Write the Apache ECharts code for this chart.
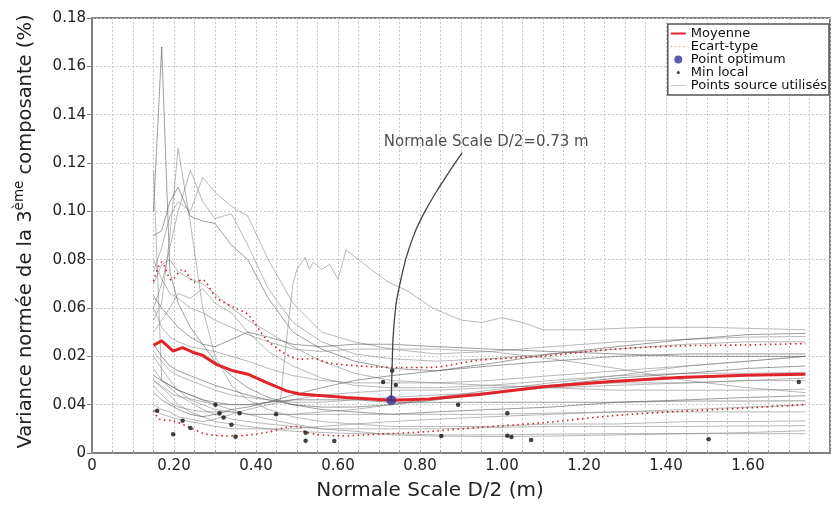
<!DOCTYPE html>
<html>
<head>
<meta charset="utf-8">
<script src="https://cdn.jsdelivr.net/npm/echarts@6/dist/echarts.min.js"></script>
<style>
  html, body { margin: 0; padding: 0; background: #fff; }
  #chart { width: 838px; height: 506px; }
</style>
</head>
<body>
<div id="chart"></div>
<script>
// Shared abscissae (Normale Scale D/2, m) for the source curves
const xGrid = [0.15,0.17,0.19,0.21,0.24,0.27,0.30,0.34,0.38,0.43,0.49,0.56,0.64,0.73,0.84,0.97,1.12,1.28,1.45,1.60,1.74];

// Source curves sampled on xGrid
const src01 = [0.100,0.168,0.075,0.062,0.052,0.045,0.038,0.032,0.027,0.023,0.020,0.018,0.017,0.016,0.017,0.018,0.019,0.021,0.022,0.023,0.0237];
const src02 = [0.055,0.062,0.090,0.126,0.095,0.060,0.040,0.028,0.022,0.018,0.015,0.013,0.012,0.011,0.011,0.011,0.012,0.012,0.013,0.013,0.0133];
const src03 = [0.075,0.085,0.098,0.104,0.100,0.114,0.108,0.102,0.098,0.080,0.062,0.050,0.046,0.043,0.041,0.042,0.044,0.046,0.047,0.048,0.0482];
const src04 = [0.060,0.070,0.085,0.100,0.117,0.104,0.097,0.099,0.086,0.068,0.054,0.046,0.041,0.039,0.038,0.039,0.041,0.043,0.045,0.046,0.046];
const src05 = [0.090,0.092,0.104,0.110,0.098,0.096,0.095,0.086,0.080,0.064,0.050,0.043,0.038,0.035,0.034,0.036,0.038,0.040,0.041,0.041,0.041];
const src06 = [0.117,0.030,0.028,0.026,0.024,0.022,0.020,0.018,0.016,0.014,0.012,0.010,0.009,0.0075,0.007,0.0068,0.007,0.0075,0.008,0.0085,0.0092];
const src07 = [0.070,0.078,0.080,0.075,0.072,0.070,0.066,0.060,0.055,0.050,0.044,0.038,0.033,0.030,0.029,0.030,0.032,0.034,0.036,0.038,0.040];
const src08 = [0.050,0.055,0.060,0.066,0.064,0.068,0.062,0.058,0.050,0.042,0.036,0.031,0.028,0.027,0.027,0.028,0.030,0.032,0.033,0.033,0.0333];
const src09 = [0.045,0.040,0.036,0.034,0.032,0.030,0.028,0.026,0.024,0.022,0.020,0.019,0.019,0.020,0.022,0.025,0.028,0.031,0.033,0.035,0.036];
const src10 = [0.040,0.035,0.030,0.026,0.022,0.020,0.018,0.017,0.016,0.016,0.016,0.017,0.018,0.020,0.023,0.026,0.029,0.032,0.036,0.038,0.040];
const src11 = [0.035,0.030,0.027,0.024,0.021,0.018,0.016,0.014,0.013,0.012,0.011,0.010,0.010,0.010,0.010,0.0105,0.011,0.011,0.011,0.0112,0.0113];
const src12 = [0.030,0.027,0.024,0.020,0.017,0.015,0.013,0.012,0.011,0.010,0.009,0.0085,0.008,0.008,0.0075,0.0075,0.0078,0.008,0.008,0.008,0.008];
const src13 = [0.025,0.022,0.020,0.018,0.016,0.015,0.016,0.018,0.019,0.021,0.024,0.027,0.030,0.032,0.034,0.037,0.041,0.044,0.047,0.049,0.0495];
const src14 = [0.020,0.018,0.017,0.015,0.014,0.013,0.014,0.016,0.018,0.020,0.022,0.024,0.025,0.026,0.026,0.027,0.028,0.029,0.029,0.030,0.0299];
const src15 = [0.060,0.052,0.048,0.046,0.044,0.043,0.042,0.040,0.038,0.035,0.032,0.030,0.029,0.029,0.029,0.028,0.027,0.026,0.026,0.026,0.0264];
const src16 = [0.080,0.072,0.066,0.064,0.060,0.058,0.055,0.052,0.049,0.046,0.043,0.042,0.043,0.043,0.043,0.042,0.039,0.035,0.030,0.027,0.025];
const src17 = [0.032,0.030,0.028,0.026,0.024,0.022,0.021,0.020,0.020,0.021,0.022,0.022,0.022,0.021,0.021,0.021,0.021,0.021,0.0215,0.0215,0.0216];
const src18 = [0.028,0.024,0.021,0.019,0.018,0.017,0.017,0.017,0.016,0.016,0.016,0.016,0.016,0.016,0.016,0.016,0.0165,0.017,0.017,0.017,0.017];
const src19 = [0.042,0.038,0.034,0.032,0.030,0.028,0.026,0.024,0.023,0.022,0.021,0.021,0.022,0.023,0.024,0.025,0.027,0.028,0.029,0.030,0.031];
const src20 = [0.018,0.016,0.015,0.014,0.013,0.012,0.011,0.010,0.010,0.010,0.010,0.011,0.012,0.013,0.014,0.015,0.016,0.017,0.018,0.019,0.020];
const src21 = [0.065,0.060,0.056,0.052,0.048,0.045,0.044,0.047,0.050,0.048,0.045,0.044,0.045,0.045,0.044,0.043,0.042,0.041,0.040,0.040,0.040];

// Source curve with the late bump, given as [x, y] pairs
const srcBump = [[0.15,0.030],[0.20,0.024],[0.30,0.020],[0.40,0.020],[0.46,0.022],[0.47,0.040],[0.49,0.070],[0.50,0.076],[0.52,0.081],[0.53,0.076],[0.54,0.079],[0.56,0.076],[0.58,0.078],[0.60,0.072],[0.62,0.084],[0.65,0.080],[0.68,0.076],[0.72,0.071],[0.77,0.067],[0.83,0.060],[0.90,0.055],[0.95,0.054],[1.00,0.056],[1.05,0.054],[1.10,0.051],[1.20,0.051],[1.35,0.052],[1.50,0.052],[1.74,0.051]];

// Mean ("Moyenne")
const meanCurve = [[0.15,0.0446],[0.17,0.0464],[0.198,0.0422],[0.221,0.0436],[0.247,0.0416],[0.269,0.0405],[0.303,0.0367],[0.344,0.034],[0.38,0.0326],[0.425,0.0292],[0.474,0.0257],[0.506,0.0244],[0.538,0.024],[0.62,0.023],[0.73,0.0218],[0.822,0.0223],[0.944,0.0242],[1.106,0.0275],[1.268,0.0296],[1.431,0.0312],[1.593,0.0322],[1.74,0.0326]];

// Mean + standard deviation
const stdUpper = [[0.15,0.0711],[0.17,0.079],[0.194,0.0716],[0.221,0.076],[0.25,0.0707],[0.269,0.0716],[0.303,0.0643],[0.348,0.0601],[0.38,0.0574],[0.425,0.0471],[0.466,0.0416],[0.506,0.0388],[0.538,0.0391],[0.579,0.0372],[0.652,0.036],[0.732,0.0354],[0.822,0.0354],[0.944,0.0384],[1.106,0.0402],[1.268,0.0429],[1.431,0.0443],[1.593,0.0447],[1.74,0.0453]];

// Mean - standard deviation
const stdLower = [[0.15,0.0175],[0.165,0.014],[0.198,0.0133],[0.238,0.0106],[0.279,0.0078],[0.348,0.0071],[0.425,0.0085],[0.474,0.0106],[0.506,0.011],[0.522,0.0085],[0.603,0.0071],[0.70,0.0078],[0.822,0.0089],[0.944,0.0106],[1.106,0.0126],[1.268,0.0154],[1.431,0.0172],[1.593,0.0186],[1.74,0.020]];

// Local minima of the source curves
const localMins = [[0.159,0.0175],[0.198,0.0078],[0.221,0.0133],[0.24,0.0103],[0.301,0.020],[0.311,0.0164],[0.321,0.0147],[0.36,0.0165],[0.34,0.0117],[0.35,0.0067],[0.449,0.016],[0.521,0.0084],[0.521,0.0051],[0.591,0.005],[0.71,0.0294],[0.732,0.034],[0.741,0.0281],[0.852,0.007],[0.893,0.020],[1.013,0.0165],[1.013,0.0071],[1.023,0.0066],[1.071,0.0054],[1.504,0.0057],[1.724,0.0294]];

// Optimum of the mean curve
const optimum = [[0.73, 0.0218]];
const optimumLabel = 'Normale Scale D/2=0.73 m';

// Leader from the optimum up to its caption
const leaderPath = [[0.73,0.0218],[0.7316,0.0333],[0.737,0.054],[0.757,0.0746],[0.781,0.0884],[0.806,0.098],[0.847,0.110],[0.903,0.1243]];

// Tick labels, as printed on the axes
const yTickLabels = ['0','0.04','0.02','0.06','0.08','0.10','0.12','0.14','0.16','0.18'];
const xTickLabels = {0:'0',4:'0.20',8:'0.40',12:'0.60',16:'0.80',20:'1.00',24:'1.20',28:'1.40',32:'1.60'};

const FONT = 'DejaVu Sans';
const RED = '#e0242a';
const RED_DOT = '#c8202a';
const GREY = 'rgba(125,125,125,0.55)';
const GREY_DARK = 'rgba(60,60,60,0.5)';
const gridCurves = [src01,src02,src03,src04,src05,src06,src07,src08,src09,src10,src11,src12,src13,src14,src15,src16,src17,src18,src19,src20,src21];

const SRC_NAME = 'Points source utilisés';
const series = [];
gridCurves.forEach(function (ys, k) {
  const c = k % 4 === 0 ? GREY_DARK : GREY;
  series.push({
    name: SRC_NAME, type: 'line', symbol: 'none', silent: true,
    data: xGrid.map(function (x, i) { return [x, ys[i]]; }),
    itemStyle: { color: '#b4b4b4' },
    lineStyle: { color: c, width: 1 },
    z: 1
  });
});
series.push({
  name: SRC_NAME, type: 'line', symbol: 'none', silent: true, data: srcBump,
  itemStyle: { color: '#b4b4b4' },
  lineStyle: { color: GREY, width: 1 }, z: 1
});
['upper','lower'].forEach(function (w) {
  series.push({
    name: 'Ecart-type', type: 'line', symbol: 'none', smooth: 0.3,
    data: w === 'upper' ? stdUpper : stdLower,
    itemStyle: { color: RED_DOT },
    lineStyle: { color: RED_DOT, width: 1.6, type: [1.5, 3.5] }, z: 3
  });
});
series.push({
  name: 'Moyenne', type: 'line', symbol: 'none', data: meanCurve,
  itemStyle: { color: RED },
  lineStyle: { color: RED, width: 3 }, z: 4
});
series.push({
  name: 'Min local', type: 'scatter', data: localMins, symbol: 'circle', symbolSize: 4.5,
  itemStyle: { color: '#111' }, z: 5
});
series.push({
  name: 'leader', type: 'line', smooth: 0.5, symbol: 'none', silent: true,
  data: leaderPath,
  itemStyle: { color: '#444' },
  lineStyle: { color: '#444', width: 1.3 }, z: 6
});
// Caption anchored at the top end of the leader
series.push({
  name: 'caption', type: 'scatter', silent: true,
  data: [leaderPath[leaderPath.length - 1]],
  symbol: 'circle', symbolSize: 1, itemStyle: { color: 'rgba(0,0,0,0)' },
  label: { show: true, formatter: optimumLabel, position: 'top', distance: 2, offset: [24, 0],
    fontFamily: FONT, fontSize: 15, color: '#222' },
  z: 6
});
series.push({
  name: 'Point optimum', type: 'scatter', data: optimum, symbol: 'circle', symbolSize: 10,
  itemStyle: { color: '#33339a' }, z: 7
});

const chart = echarts.init(document.getElementById('chart'), null, { renderer: 'canvas' });
chart.setOption({
  animation: false,
  backgroundColor: '#fff',
  textStyle: { fontFamily: FONT },
  grid: { left: 92, right: 8, top: 18, bottom: 52, show: true, borderColor: '#808080', borderWidth: 2, backgroundColor: 'transparent' },
  legend: {
    orient: 'vertical', right: 9, top: 24,
    padding: [3, 2, 3, 3], itemGap: 0, itemWidth: 15, itemHeight: 12,
    backgroundColor: '#fff', borderColor: '#555', borderWidth: 1.5, borderRadius: 0,
    textStyle: { fontFamily: FONT, fontSize: 13, color: '#111' },
    data: [
      { name: 'Moyenne', icon: 'path://M0,0M15,12M0,5h15v2h-15z', itemStyle: { color: RED } },
      { name: 'Ecart-type', icon: 'path://M0,0M15,12M0,5.4h1.5v1.2h-1.5zM4,5.4h1.5v1.2h-1.5zM8,5.4h1.5v1.2h-1.5zM12,5.4h1.5v1.2h-1.5z', itemStyle: { color: '#e6a070' } },
      { name: 'Point optimum', icon: 'path://M0,0M15,12M7.5,2a4,4 0 1,1 0,8a4,4 0 1,1 0,-8z', itemStyle: { color: '#33339a' } },
      { name: 'Min local', icon: 'path://M0,0M15,12M7.5,4.5a1.5,1.5 0 1,1 0,3a1.5,1.5 0 1,1 0,-3z', itemStyle: { color: '#111' } },
      { name: SRC_NAME, icon: 'path://M0,0M15,12M0,5.5h15v1h-15z', itemStyle: { color: '#c8c8c8' } }
    ]
  },
  xAxis: {
    type: 'value', min: 0, max: 1.8, interval: 0.05,
    name: 'Normale Scale D/2 (m)', nameLocation: 'middle', nameGap: 28,
    nameTextStyle: { fontFamily: FONT, fontSize: 20, color: '#222', padding: [0, 62, 0, 0] },
    axisLine: { show: true, lineStyle: { color: '#808080', width: 2 } },
    axisTick: { show: true, inside: true, length: 3, lineStyle: { color: '#999' } },
    axisLabel: {
      fontFamily: FONT, fontSize: 15, color: '#222', margin: 6, showMaxLabel: true,
      formatter: function (v) { const k = Math.round(v / 0.05); return xTickLabels[k] !== undefined ? xTickLabels[k] : ''; }
    },
    splitLine: { show: true, lineStyle: { color: '#c8c8c8', type: [2, 2], width: 1 } }
  },
  yAxis: {
    type: 'value', min: 0, max: 0.18, interval: 0.02,
    name: '{n|Variance normée de la 3}{s|ème}{n| composante (%)}',
    nameLocation: 'middle', nameGap: 52,
    nameTextStyle: {
      fontFamily: FONT, color: '#222', padding: [0, 0, 0, 8],
      rich: {
        n: { fontFamily: FONT, fontSize: 19.5, color: '#222', lineHeight: 28 },
        s: { fontFamily: FONT, fontSize: 13.5, color: '#222', lineHeight: 14, verticalAlign: 'top' }
      }
    },
    axisLine: { show: true, lineStyle: { color: '#808080', width: 2 } },
    axisTick: { show: true, inside: false, length: 5, lineStyle: { color: '#808080' } },
    axisLabel: {
      fontFamily: FONT, fontSize: 15, color: '#222', margin: 6,
      formatter: function (v) { return yTickLabels[Math.round(v / 0.02)]; }
    },
    splitLine: { show: true, lineStyle: { color: '#c8c8c8', type: [2, 2], width: 1 } }
  },
  series: series
});
</script>
</body>
</html>
